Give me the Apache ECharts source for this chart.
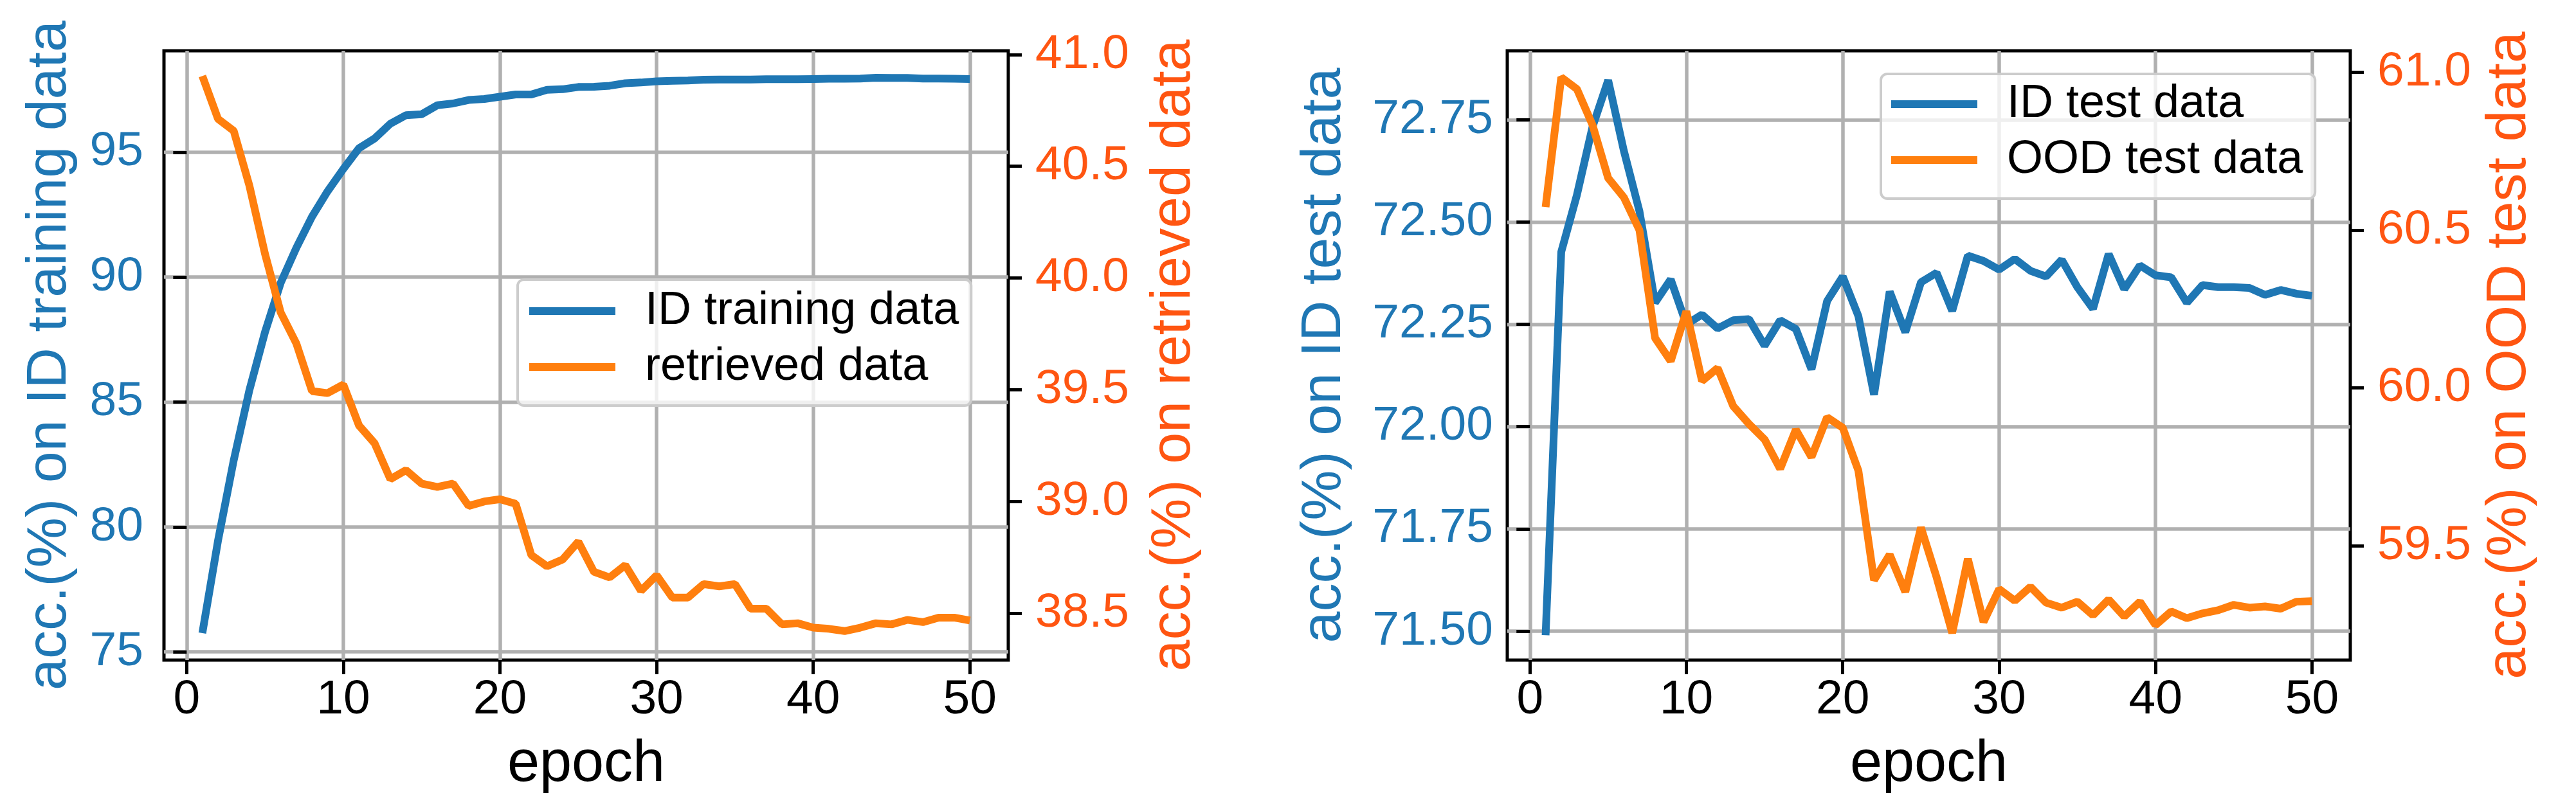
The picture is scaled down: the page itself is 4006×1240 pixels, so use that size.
<!DOCTYPE html>
<html><head><meta charset="utf-8">
<script src="https://cdn.jsdelivr.net/npm/echarts@6/dist/echarts.min.js"></script>
<style>html,body{margin:0;padding:0;background:#fff}#c{width:4006px;height:1240px}</style>
</head><body><div id="c"></div>
<script>
// ---------------- data ----------------
const epochs = [1,2,3,4,5,6,7,8,9,10,11,12,13,14,15,16,17,18,19,20,21,22,23,24,25,26,27,28,29,30,31,32,33,34,35,36,37,38,39,40,41,42,43,44,45,46,47,48,49,50];
const idTrain = [75.75,79.45,82.66,85.47,87.8,89.77,91.17,92.42,93.44,94.33,95.16,95.55,96.14,96.48,96.52,96.88,96.95,97.09,97.13,97.22,97.31,97.31,97.5,97.52,97.61,97.62,97.66,97.76,97.79,97.84,97.86,97.87,97.9,97.91,97.91,97.91,97.92,97.92,97.92,97.93,97.94,97.94,97.95,97.98,97.97,97.97,97.95,97.95,97.94,97.93];
const retrieved = [40.904,40.712,40.659,40.414,40.108,39.846,39.707,39.494,39.485,39.523,39.34,39.26,39.10,39.14,39.08,39.065,39.08,38.98,39.0,39.01,38.99,38.76,38.71,38.74,38.82,38.685,38.66,38.715,38.60,38.67,38.57,38.57,38.63,38.62,38.63,38.52,38.52,38.45,38.455,38.435,38.43,38.42,38.435,38.455,38.45,38.47,38.46,38.48,38.48,38.467];
const idTest = [71.49,72.427,72.566,72.733,72.847,72.675,72.527,72.303,72.36,72.25,72.274,72.24,72.26,72.263,72.198,72.26,72.239,72.14,72.307,72.367,72.27,72.078,72.33,72.231,72.353,72.376,72.283,72.418,72.405,72.384,72.41,72.381,72.367,72.408,72.341,72.288,72.422,72.336,72.394,72.37,72.365,72.303,72.346,72.341,72.341,72.339,72.322,72.334,72.325,72.32];
const oodTest = [60.573,60.984,60.947,60.833,60.665,60.604,60.5,60.158,60.085,60.243,60.022,60.063,59.942,59.886,59.837,59.744,59.868,59.781,59.907,59.874,59.738,59.391,59.472,59.354,59.558,59.40,59.224,59.459,59.259,59.363,59.326,59.37,59.32,59.304,59.323,59.28,59.33,59.276,59.323,59.249,59.292,59.271,59.286,59.296,59.313,59.304,59.308,59.301,59.323,59.325];

const xTicks = [0,10,20,30,40,50];
const trainTicks = [75,80,85,90,95];
const retrievedTicks = [38.5,39.0,39.5,40.0,40.5,41.0];
const idTestTicks = [71.50,71.75,72.00,72.25,72.50,72.75];
const oodTicks = [59.5,60.0,60.5,61.0];

const names = {
  train: 'ID training data', retr: 'retrieved data',
  idTest: 'ID test data', ood: 'OOD test data'
};

// ---------------- styles ----------------
const FONT = '"Liberation Sans", Arial, sans-serif';
const BLUE = '#1f77b4', ORANGE = '#ff7f0e', RED = '#ff5511';
const GRIDC = '#b0b0b0';

function pairs(xs, ys){ return xs.map((x,i)=>[x, ys[i]]); }

function xAx(gi){
  return {
    type:'value', gridIndex:gi, min:-1.45, max:52.45,
    name:'epoch', nameLocation:'middle', nameGap:118, nameMoveOverlap:false,
    nameTextStyle:{fontFamily:FONT, fontSize:90, color:'#000', verticalAlign:'top'},
    axisLine:{show:false},
    axisTick:{show:true, length:22, customValues:xTicks, lineStyle:{color:'#000', width:5}},
    axisLabel:{show:true, customValues:xTicks, fontFamily:FONT, fontSize:75, color:'#000', margin:25},
    splitLine:{show:true, lineStyle:{color:GRIDC, width:5.5}}
  };
}
function yAx(gi, pos, min, max, ticks, dec, color, name, gap, margin, grid){
  return {
    type:'value', gridIndex:gi, position:pos, min:min, max:max,
    name:name, nameLocation:'middle', nameGap:gap, nameRotate:90, nameMoveOverlap:false,
    nameTextStyle:{fontFamily:FONT, fontSize:88, color:color},
    axisLine:{show:false},
    axisTick:{show:true, length:21, customValues:ticks, lineStyle:{color:'#000', width:5}},
    axisLabel:{show:true, customValues:ticks, fontFamily:FONT, fontSize:75, color:color, margin:margin,
      formatter:(v)=>Number(v).toFixed(dec)},
    splitLine:{show:grid, lineStyle:{color:GRIDC, width:5.5}}
  };
}
function legendBox(left, top, data, pad){
  return {
    left:left, top:top, orient:'vertical', data:data,
    icon:'rect', itemWidth:134, itemHeight:12, itemGap:15,
    padding:pad, selectedMode:false,
    backgroundColor:'rgba(255,255,255,0.8)', borderColor:'#cccccc', borderWidth:4, borderRadius:10,
    textStyle:{fontFamily:FONT, fontSize:72, color:'#000', padding:[0,0,0,41]}
  };
}

const option = {
  animation:false,
  backgroundColor:'#fff',
  textStyle:{fontFamily:FONT},
  grid:[
    {left:255, top:79, width:1313, height:955, show:true, borderColor:'#000', borderWidth:5, backgroundColor:'transparent'},
    {left:2344, top:79, width:1311, height:955, show:true, borderColor:'#000', borderWidth:5, backgroundColor:'transparent'}
  ],
  xAxis:[ xAx(0), xAx(1) ],
  yAxis:[
    yAx(0,'left',74.67,99.06,trainTicks,0,BLUE,'acc.(%) on ID training data',133,32,true),
    yAx(0,'right',38.29,41.017,retrievedTicks,1,RED,'acc.(%) on retrieved data',214,42,false),
    yAx(1,'left',71.429,72.919,idTestTicks,2,BLUE,'acc.(%) on ID test data',240,22,true),
    yAx(1,'right',59.138,61.068,oodTicks,1,RED,'acc.(%) on OOD test data',204,42,false)
  ],
  legend:[
    legendBox(805, 435, [names.train, names.retr], [13,19,24,18]),
    legendBox(2925, 115, [names.idTest, names.ood], [11,19,24,16])
  ],
  series:[
    {type:'line', name:names.train, xAxisIndex:0, yAxisIndex:0, data:pairs(epochs,idTrain), showSymbol:false, color:BLUE, lineStyle:{width:12, color:BLUE}, z:3},
    {type:'line', name:names.retr, xAxisIndex:0, yAxisIndex:1, data:pairs(epochs,retrieved), showSymbol:false, color:ORANGE, lineStyle:{width:12, color:ORANGE}, z:4},
    {type:'line', name:names.idTest, xAxisIndex:1, yAxisIndex:2, data:pairs(epochs,idTest), showSymbol:false, color:BLUE, lineStyle:{width:12, color:BLUE}, z:3},
    {type:'line', name:names.ood, xAxisIndex:1, yAxisIndex:3, data:pairs(epochs,oodTest), showSymbol:false, color:ORANGE, lineStyle:{width:12, color:ORANGE}, z:4}
  ]
};
const chart = echarts.init(document.getElementById('c'), null, {renderer:'canvas'});
chart.setOption(option);
</script></body></html>
